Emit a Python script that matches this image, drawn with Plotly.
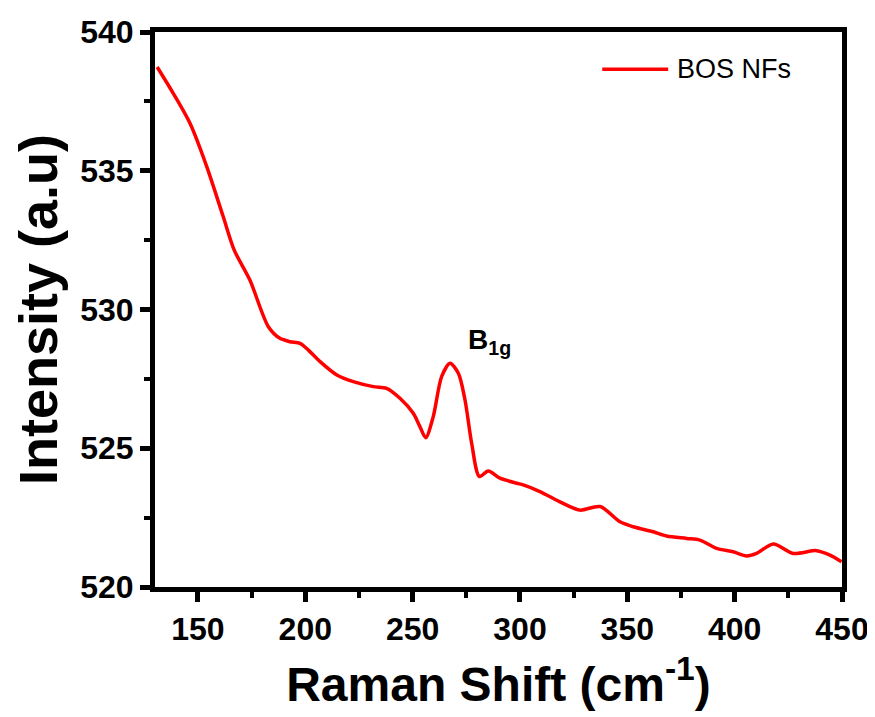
import plotly.graph_objects as go

raman_shift = [131, 138.5, 146.3, 154.1, 161.8, 166.9, 174.2, 182.8, 188.2, 192.9, 197.5, 200.6,
               206.9, 214.7, 222.4, 231.7, 237.9, 244.1, 250.3, 253.4, 256.1, 259.6, 263.5, 267.4,
               271.3, 274.4, 277.5, 281.1, 285.2, 290.7, 298.5, 301.5, 309.3, 318.6, 327.9, 337.3,
               346.6, 352.8, 362.1, 368.3, 377.6, 383.8, 391.6, 399.3, 405.6, 410.2, 418.0, 427.3,
               438.2, 444.4, 449.8]
intensity = [538.74, 537.79, 536.71, 535.15, 533.34, 532.14, 531.06, 529.38, 528.96, 528.84, 528.78, 528.60,
             528.12, 527.64, 527.40, 527.22, 527.16, 526.80, 526.26, 525.78, 525.38, 526.14, 527.58, 528.06,
             527.70, 526.74, 525.18, 523.98, 524.18, 523.92, 523.74, 523.68, 523.44, 523.07, 522.77, 522.90,
             522.35, 522.17, 521.99, 521.84, 521.75, 521.69, 521.39, 521.27, 521.12, 521.21, 521.55, 521.21,
             521.31, 521.15, 520.91]

x_ticks = [150, 200, 250, 300, 350, 400, 450]
y_ticks = [520, 525, 530, 535, 540]
series_name = "BOS NFs"
peak_label = "B<sub>1g</sub>"
peak_pos = (286, 528.85)

FONT = "Liberation Sans, Arial, sans-serif"
RED = "#FF0000"

fig = go.Figure()
fig.add_trace(go.Scatter(x=raman_shift, y=intensity, mode="lines", name=series_name, showlegend=False,
                         line=dict(color=RED, width=3.5, shape="spline", smoothing=0.8)))

fig.add_annotation(x=peak_pos[0], y=peak_pos[1], text="<b>" + peak_label + "</b>", showarrow=False,
                   font=dict(family=FONT, size=28, color="black"))

# legend (swatch + label)
fig.add_shape(type="line", xref="paper", yref="paper", x0=0.651, x1=0.747, y0=0.933, y1=0.933,
              line=dict(color=RED, width=3.5))
fig.add_annotation(xref="paper", yref="paper", x=0.757, y=0.933, xanchor="left", yanchor="middle",
                   text=series_name, showarrow=False, font=dict(family=FONT, size=27, color="black"))

axis_common = dict(showline=True, linecolor="black", linewidth=5, mirror=True,
                   ticks="outside", ticklen=10, tickwidth=5, tickcolor="black",
                   showgrid=False, zeroline=False,
                   tickfont=dict(family=FONT, size=32, color="black", weight="bold"))

fig.update_xaxes(range=[130, 450], tickvals=x_ticks,
                 minor=dict(ticks="outside", ticklen=6, tickwidth=4, tickcolor="black", dtick=25, tick0=125),
                 title=dict(text="<b>Raman Shift (cm<sup>-1</sup>)</b>", font=dict(family=FONT, size=48, color="black"),
                            standoff=22),
                 **axis_common)
fig.update_yaxes(range=[520, 540], tickvals=y_ticks,
                 minor=dict(ticks="outside", ticklen=6, tickwidth=4, tickcolor="black", dtick=2.5, tick0=520),
                 title=dict(text="<b>Intensity (a.u)</b>", font=dict(family=FONT, size=54, color="black"),
                            standoff=22),
                 **axis_common)

fig.update_layout(width=867, height=709, plot_bgcolor="white", paper_bgcolor="white",
                  margin=dict(l=147, r=33, t=24, b=130, autoexpand=False),
                  showlegend=False)

fig.write_html("out.html")
